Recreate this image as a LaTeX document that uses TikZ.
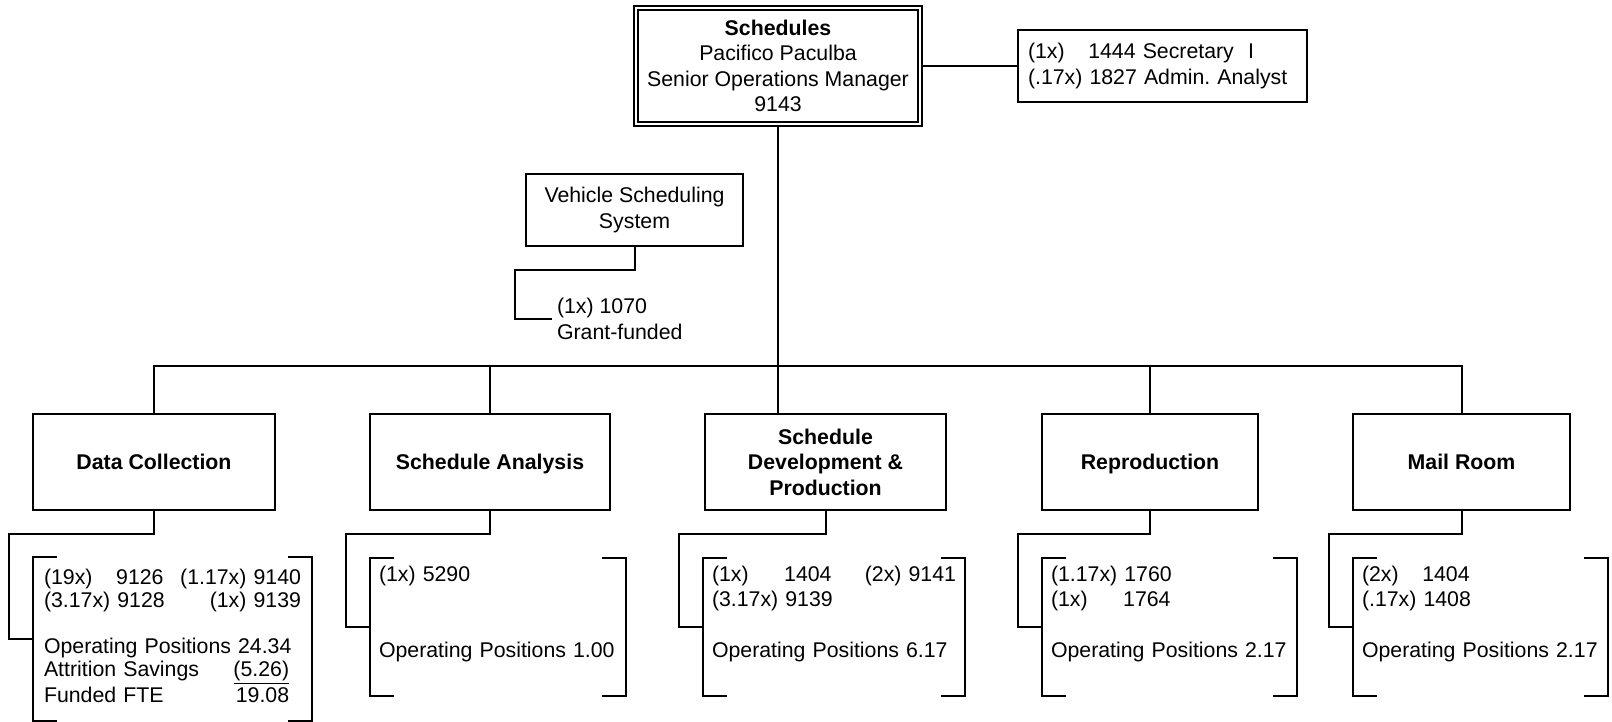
\documentclass[tikz,border=0pt]{standalone}
\usepackage{fontspec}
\setmainfont{Liberation Sans}

\begin{document}
\begin{tikzpicture}[x=0.5pt,y=-0.5pt,line width=1pt,
  every node/.style={font=\fontsize{10.65}{12.75}\selectfont},
  unit/.style={draw,align=center,minimum height=48pt,inner sep=0pt,
    font=\fontsize{10.65}{12.75}\selectfont\bfseries},
  oneline/.style={text height=7.7pt,text depth=0pt},
  listbox/.style={inner xsep=4.5pt,inner ysep=0pt,outer sep=0pt,align=left,minimum height=69pt}]
\useasboundingbox (0,0) rectangle (1612,722);

\node[draw,double,double distance=1.3pt,line width=0.8pt,outer sep=1.45pt,
  minimum width=142pt,minimum height=58pt,inner sep=0pt,align=center] (boss) at (778,66)
  {\textbf{Schedules}\\ Pacifico Paculba\\ Senior Operations Manager\\ 9143};
\node[draw,align=left,text width=134.5pt,inner xsep=5pt,minimum height=36pt] (sec) at (1162.5,66)
  {\makebox[2.83em][l]{(1x)}1444 Secretary\ \ I\\ (.17x) 1827 Admin.\ Analyst};
\draw (boss.east) -- (sec.west);

\node[draw,align=center,minimum width=108.5pt,minimum height=36pt,inner sep=0pt] (vss) at (634.5,210)
  {Vehicle Scheduling\\ System};
\node[align=left,anchor=west,inner sep=2pt] (grant) at (552,319) {(1x) 1070\\ Grant-funded};
\draw (vss.south) -- ++(0,23) -| ([xshift=-18.5pt]grant.west) -- (grant.west);

\node[unit,oneline,minimum width=121pt] (dc) at (154,462) {Data Collection};
\node[unit,oneline,minimum width=120pt] (sa) at (490,462) {Schedule Analysis};
\node[unit,minimum width=120.5pt] (sdp) at (825.5,462) {Schedule\\ Development \&\\ Production};
\node[unit,oneline,minimum width=108pt] (rp) at (1150,462) {Reproduction};
\node[unit,oneline,minimum width=108.5pt] (mr) at (1461.5,462) {Mail Room};

\coordinate (bar) at (778,366);
\draw (boss.south) -- (sdp.north -| boss.south);
\draw (dc.north) |- (bar) -| (mr.north);
\draw (sa.north) |- (bar);
\draw (rp.north) |- (bar);

\node[listbox,inner xsep=5.5pt,text width=128.5pt,minimum height=82pt,font=\fontsize{10.65}{11.5}\selectfont] (dcl) at (172.5,639)
  {\strut\makebox[3.39em][l]{(19x)}9126\hfill(1.17x) 9140\\
   (3.17x) 9128\hfill(1x) 9139\\
   \mbox{}\\
   Operating Positions 24.34\\
   \makebox[11.51em][l]{Attrition Savings\hfill\underline{(5.26)}}\\
   \makebox[11.51em][l]{Funded FTE\hfill 19.08}\strut};
\node[listbox,text width=119pt] (sal) at (498,627)
  {\strut(1x) 5290\\ \mbox{}\\ \mbox{}\\ Operating Positions 1.00\\ \strut};
\node[listbox,text width=122pt] (sdl) at (834,627)
  {\strut\makebox[3.39em][l]{(1x)}1404\hfill(2x) 9141\\ (3.17x) 9139\\ \mbox{}\\ Operating Positions 6.17\\ \strut};
\node[listbox,text width=118.5pt] (rpl) at (1169.5,627)
  {\strut(1.17x) 1760\\ \makebox[3.39em][l]{(1x)}1764\\ \mbox{}\\ Operating Positions 2.17\\ \strut};
\node[listbox,text width=118.5pt] (mrl) at (1480.5,627)
  {\strut\makebox[2.83em][l]{(2x)}1404\\ (.17x) 1408\\ \mbox{}\\ Operating Positions 2.17\\ \strut};

\foreach \u/\l in {dc/dcl,sa/sal,sdp/sdl,rp/rpl,mr/mrl}
  \draw (\u.south) -- ++(0,23) -| ([xshift=-12pt]\l.west) -- (\l.west);

\foreach \l in {dcl,sal,sdl,rpl,mrl}{
  \draw ([xshift=12pt]\l.north west) -- (\l.north west) -- (\l.south west) -- ([xshift=12pt]\l.south west);
  \draw ([xshift=-12pt]\l.north east) -- (\l.north east) -- (\l.south east) -- ([xshift=-12pt]\l.south east);
}
\end{tikzpicture}
\end{document}
